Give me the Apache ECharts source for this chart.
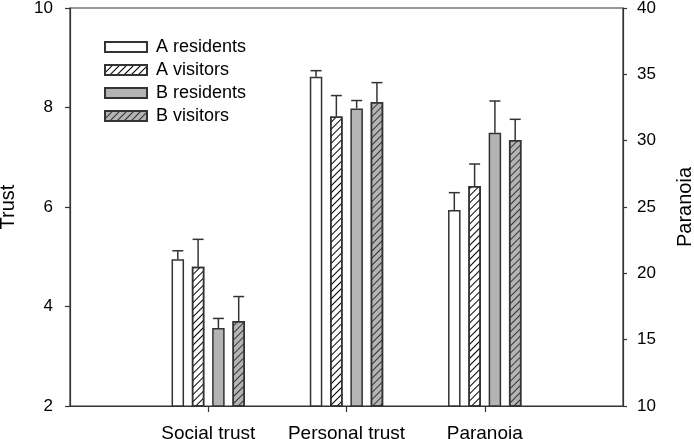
<!DOCTYPE html>
<html><head><meta charset="utf-8">
<script src="https://cdn.jsdelivr.net/npm/echarts@6/dist/echarts.min.js"></script>
<style>html,body{margin:0;padding:0;background:#fff}#c{width:694px;height:439px}</style>
</head><body><div id="c"></div>
<script>
// categories (blank ends give ticks at band boundaries)
var categories = ['', 'Social trust', 'Personal trust', 'Paranoia', ''];
var seriesNames = ['A residents', 'A visitors', 'B residents', 'B visitors'];
// Trust (left axis): Social trust, Personal trust
var trustA_res = [4.95, 8.62];
var trustA_vis = [4.80, 7.82];
var trustB_res = [3.57, 7.98];
var trustB_vis = [3.71, 8.11];
var trustErrA_res = [0.17, 0.12];
var trustErrA_vis = [0.55, 0.42];
var trustErrB_res = [0.19, 0.16];
var trustErrB_vis = [0.49, 0.39];
// Paranoia (right axis)
var paranoiaMean = [24.77, 26.58, 30.6, 30.05];
var paranoiaErr = [1.31, 1.66, 2.39, 1.56];
// tick values
var leftTicks = [2, 4, 6, 8, 10];
var rightTicks = [10, 15, 20, 25, 30, 35, 40];

var FONT = 'Liberation Sans, Arial, sans-serif';
var EDGE = '#333333';
var GRAY = '#b4b4b4';
var BAR_W = 12.5, STRIDE = 20.3;

function hatch(col) {
  return { symbol: 'rect', symbolSize: 1, dashArrayX: [1, 0], dashArrayY: [1, 4], rotation: -Math.PI / 4, color: col };
}
var styles = [
  { color: '#ffffff', borderColor: EDGE, borderWidth: 1.5 },
  { color: '#ffffff', borderColor: EDGE, borderWidth: 1.5, decal: hatch('#000000') },
  { color: GRAY, borderColor: EDGE, borderWidth: 1.5 },
  { color: GRAY, borderColor: EDGE, borderWidth: 1.5, decal: hatch('#333333') }
];
var trustVals = [trustA_res, trustA_vis, trustB_res, trustB_vis];
var trustErrs = [trustErrA_res, trustErrA_vis, trustErrB_res, trustErrB_vis];

var series = [];
for (var k = 0; k < 4; k++) {
  series.push({
    name: seriesNames[k], type: 'bar', xAxisIndex: 0, yAxisIndex: 0,
    barWidth: BAR_W, barGap: ((STRIDE - BAR_W) / BAR_W * 100) + '%',
    itemStyle: styles[k],
    data: ['-', trustVals[k][0], trustVals[k][1], '-', '-']
  });
}
for (var k = 0; k < 4; k++) {
  var d = ['-', '-', '-', '-', '-'];
  d[3] = paranoiaMean[k];
  series.push({
    name: seriesNames[k], type: 'bar', xAxisIndex: 1, yAxisIndex: 1,
    barWidth: BAR_W, barGap: ((STRIDE - BAR_W) / BAR_W * 100) + '%',
    itemStyle: styles[k],
    data: d
  });
}
function errRender(params, api) {
  var ci = api.value(0), m = api.value(1), e = api.value(2), k = api.value(3);
  var p0 = api.coord([ci, m]);
  var p1 = api.coord([ci, m + e]);
  var x = p0[0] + (k - 1.5) * STRIDE;
  var half = 5.5;
  return {
    type: 'group',
    children: [
      { type: 'line', shape: { x1: x, y1: p0[1], x2: x, y2: p1[1] }, style: { stroke: EDGE, lineWidth: 1.5 } },
      { type: 'line', shape: { x1: x - half, y1: p1[1], x2: x + half, y2: p1[1] }, style: { stroke: EDGE, lineWidth: 1.5 } }
    ]
  };
}
var errTrust = [], errPar = [];
for (var k = 0; k < 4; k++) {
  errTrust.push([1, trustVals[k][0], trustErrs[k][0], k]);
  errTrust.push([2, trustVals[k][1], trustErrs[k][1], k]);
  errPar.push([3, paranoiaMean[k], paranoiaErr[k], k]);
}
series.push({ type: 'custom', xAxisIndex: 0, yAxisIndex: 0, renderItem: errRender, data: errTrust, z: 1, silent: true });
series.push({ type: 'custom', xAxisIndex: 1, yAxisIndex: 1, renderItem: errRender, data: errPar, z: 1, silent: true });

var chart = echarts.init(document.getElementById('c'), null, { renderer: 'canvas' });
chart.setOption({
  animation: false,
  backgroundColor: '#ffffff',
  textStyle: { fontFamily: FONT },
  grid: { left: 70, right: 71, top: 8, bottom: 33, containLabel: false, outerBoundsMode: 'none', show: true, borderColor: EDGE, borderWidth: 1.2, backgroundColor: 'transparent' },
  legend: {
    orient: 'vertical', left: 99, top: 33, itemWidth: 42, itemHeight: 10, itemGap: 5, icon: 'rect',
    data: seriesNames,
    textStyle: { fontFamily: FONT, fontSize: 18, color: '#000', padding: [0, 0, 0, 4] }
  },
  xAxis: [
    {
      type: 'category', data: categories, boundaryGap: false, position: 'bottom',
      axisLine: { lineStyle: { color: EDGE, width: 1.2 } },
      axisTick: { length: 6, lineStyle: { color: EDGE, width: 1.2 }, interval: function (i) { return i > 0 && i < categories.length - 1; } },
      axisLabel: { interval: 0, margin: 18, fontSize: 19, color: '#000', fontFamily: FONT },
      splitLine: { show: false }
    },
    { type: 'category', data: categories, boundaryGap: false, show: false }
  ],
  yAxis: [
    {
      type: 'value', min: leftTicks[0], max: leftTicks[leftTicks.length - 1], interval: 2, position: 'left',
      name: 'Trust', nameLocation: 'middle', nameGap: 52,
      nameTextStyle: { fontSize: 20, color: '#000', fontFamily: FONT },
      axisLine: { show: true, lineStyle: { color: EDGE, width: 1.2 } },
      axisTick: { show: true, length: 5, lineStyle: { color: EDGE, width: 1.2 } },
      axisLabel: { margin: 17, fontSize: 17, color: '#000', fontFamily: FONT },
      splitLine: { show: false }
    },
    {
      type: 'value', min: rightTicks[0], max: rightTicks[rightTicks.length - 1], interval: 5, position: 'right',
      name: 'Paranoia', nameLocation: 'middle', nameGap: 52,
      nameTextStyle: { fontSize: 20, color: '#000', fontFamily: FONT },
      axisLine: { show: true, lineStyle: { color: EDGE, width: 1.2 } },
      axisTick: { show: true, length: 4, lineStyle: { color: EDGE, width: 1.2 } },
      axisLabel: { margin: 14, fontSize: 17, color: '#000', fontFamily: FONT },
      splitLine: { show: false }
    }
  ],
  series: series
});
</script></body></html>
